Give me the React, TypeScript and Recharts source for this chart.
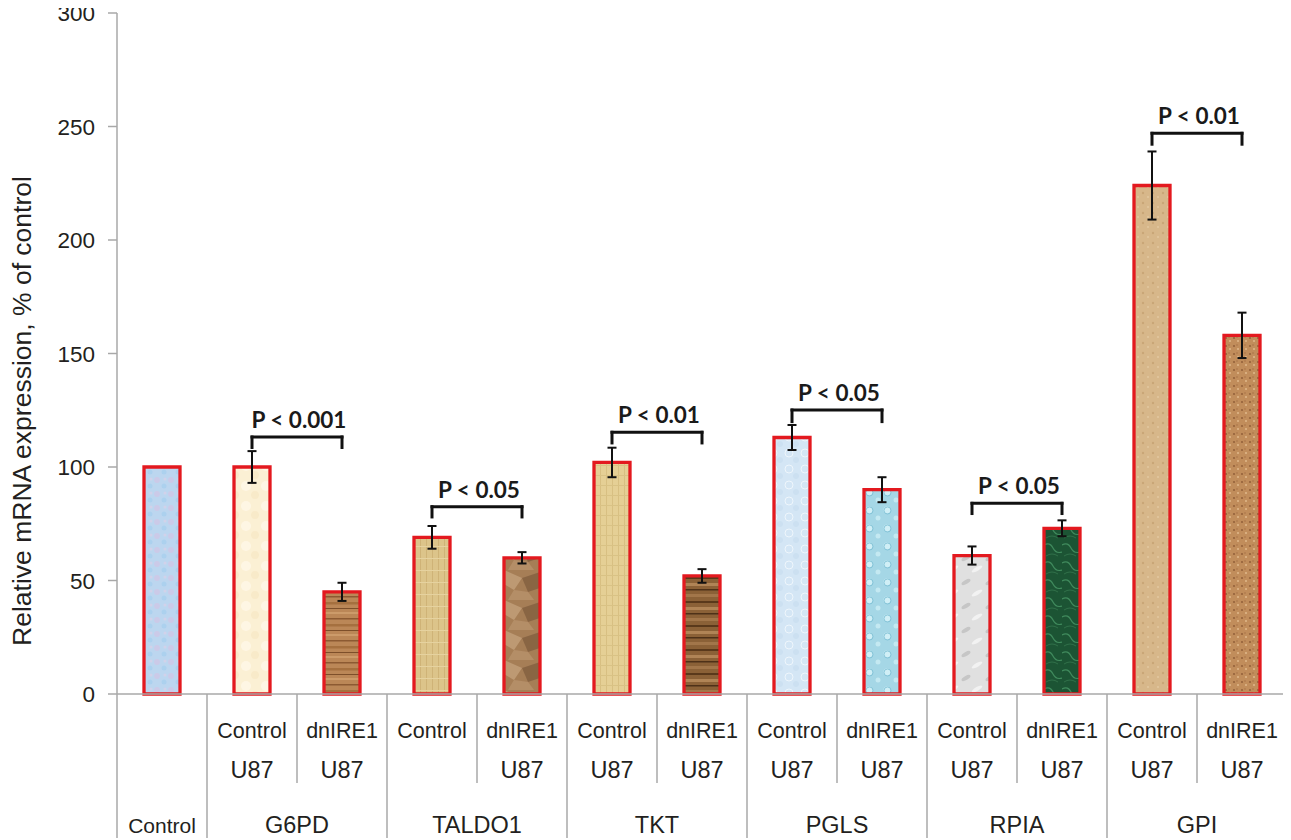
import React from 'react';
import { BarChart, Bar, XAxis, YAxis, ErrorBar, Cell, ReferenceLine } from 'recharts';

// ---------- data ----------
const categories = [
  'Control',
  'G6PD Control U87', 'G6PD dnIRE1 U87',
  'TALDO1 Control', 'TALDO1 dnIRE1 U87',
  'TKT Control U87', 'TKT dnIRE1 U87',
  'PGLS Control U87', 'PGLS dnIRE1 U87',
  'RPIA Control U87', 'RPIA dnIRE1 U87',
  'GPI Control U87', 'GPI dnIRE1 U87',
];
const expression = [100, 100, 45, 69, 60, 102, 52, 113, 90, 61, 73, 224, 158];
const errors: (number | null)[] = [null, 7, 4, 5, 2.5, 6.5, 3, 5.5, 5.5, 4, 3.5, 15, 10];
const rowOneLabels = ['', 'Control', 'dnIRE1', 'Control', 'dnIRE1', 'Control', 'dnIRE1', 'Control', 'dnIRE1', 'Control', 'dnIRE1', 'Control', 'dnIRE1'];
const rowTwoLabels = ['', 'U87', 'U87', '', 'U87', 'U87', 'U87', 'U87', 'U87', 'U87', 'U87', 'U87', 'U87'];
const groupLabels = ['Control', 'G6PD', 'TALDO1', 'TKT', 'PGLS', 'RPIA', 'GPI'];
const yTicks = [0, 50, 100, 150, 200, 250, 300];

const bracketFrom = ['G6PD Control U87', 'TALDO1 Control', 'TKT Control U87', 'PGLS Control U87', 'RPIA Control U87', 'GPI Control U87'];
const bracketTo = ['G6PD dnIRE1 U87', 'TALDO1 dnIRE1 U87', 'TKT dnIRE1 U87', 'PGLS dnIRE1 U87', 'RPIA dnIRE1 U87', 'GPI dnIRE1 U87'];
const bracketLevel = [113.2, 82.5, 115.3, 125.1, 84, 247];
const bracketLegEnd = [108.6, 78, 110.6, 120, 79.5, 242.2];
const bracketText = ['P < 0.001', 'P < 0.05', 'P < 0.01', 'P < 0.05', 'P < 0.05', 'P < 0.01'];

const data = categories.map((c, i) => ({ category: c, value: expression[i], err: errors[i] }));

// ---------- layout ----------
const CHART_W = 1291;
const CHART_H = 840;
const MARGIN = { top: 13, right: 4, bottom: 0, left: 0 };
const Y_AXIS_W = 117;
const X_AXIS_H = 146;
const PLOT_W = CHART_W - MARGIN.left - MARGIN.right - Y_AXIS_W;
const BAND = PLOT_W / categories.length;

const TEXT = '#231f20';
const GRID = '#a8a8a8';
const SANS = '"Liberation Sans", Arial, sans-serif';
const BOLD = 'Lato, "Open Sans", sans-serif';

function CategoryTick(props: any) {
  const { x, y, index } = props;
  const left = x - BAND / 2;
  const isGroupStart = index === 0 || index % 2 === 1;
  const out: React.ReactNode[] = [];
  out.push(
    <line key="l" x1={left} x2={left} y1={y} y2={y + (isGroupStart ? 144 : 89)} stroke={GRID} strokeWidth={1.5} />
  );
  if (rowOneLabels[index]) {
    out.push(
      <text key="r1" x={x} y={y + 44} textAnchor="middle" fontSize={21.5} fontFamily={SANS} fill={TEXT}>
        {rowOneLabels[index]}
      </text>
    );
  }
  if (rowTwoLabels[index]) {
    out.push(
      <text key="r2" x={x} y={y + 84} textAnchor="middle" fontSize={23.5} fontFamily={SANS} fill={TEXT}>
        {rowTwoLabels[index]}
      </text>
    );
  }
  if (index === 0) {
    out.push(
      <text key="g" x={x} y={y + 139} textAnchor="middle" fontSize={21} fontFamily={SANS} fill={TEXT}>
        {groupLabels[0]}
      </text>
    );
  } else if (index % 2 === 1) {
    out.push(
      <text key="g" x={x + BAND / 2} y={y + 139} textAnchor="middle" fontSize={23.5} fontFamily={SANS} fill={TEXT}>
        {groupLabels[(index + 1) / 2]}
      </text>
    );
  }
  return <g>{out}</g>;
}

function ValueTick(props: any) {
  const { x, y, payload } = props;
  return (
    <text x={x} y={y + 8} textAnchor="end" fontSize={22.5} fontFamily={SANS} fill={TEXT}>
      {payload.value}
    </text>
  );
}

function YTitle() {
  return (
    <text
      transform="translate(31, 411) rotate(-90)"
      textAnchor="middle"
      fontSize={26.5}
      fontFamily={SANS}
      fill={TEXT}
    >
      Relative mRNA expression, % of control
    </text>
  );
}

function bracketLabel(text: string) {
  return (props: any) => {
    const vb = props.viewBox || {};
    const cx = (vb.x || 0) + (vb.width || 0) / 2;
    return (
      <text x={cx + 2} y={(vb.y || 0) - 9} textAnchor="middle" fontSize={22.5} fontWeight={700} fontFamily={BOLD} fill="#1a1a1a">
        {text}
      </text>
    );
  };
}

function Textures() {
  return (
    <defs>
      <pattern id="tx0" width="14" height="14" patternUnits="userSpaceOnUse">
        <rect width="14" height="14" fill="#bcd6ef" />
        <circle cx="3" cy="4" r="3" fill="#d2c5e6" opacity="0.7" />
        <circle cx="10" cy="10" r="2.5" fill="#a8cfee" opacity="0.8" />
        <circle cx="11" cy="3" r="1.5" fill="#e0cfe6" opacity="0.6" />
      </pattern>
      <pattern id="tx1" width="20" height="20" patternUnits="userSpaceOnUse">
        <rect width="20" height="20" fill="#fbf0d4" />
        <circle cx="6" cy="6" r="5" fill="#fff8e8" opacity="0.8" />
        <circle cx="15" cy="15" r="4" fill="#f6e6c2" opacity="0.6" />
      </pattern>
      <pattern id="tx2" width="36" height="22" patternUnits="userSpaceOnUse">
        <rect width="36" height="22" fill="#bb8757" />
        <rect y="2" width="36" height="1.5" fill="#8c5a32" />
        <rect y="8" width="36" height="2.5" fill="#a5703f" />
        <rect y="14" width="36" height="1" fill="#7d4f2a" />
        <rect y="18" width="36" height="2" fill="#cc9b6a" />
      </pattern>
      <pattern id="tx3" width="6" height="12" patternUnits="userSpaceOnUse">
        <rect width="6" height="12" fill="#dcc48a" />
        <rect x="0" width="1" height="12" fill="#cfb377" />
        <rect y="6" width="6" height="1" fill="#e6d29f" />
      </pattern>
      <pattern id="tx4" width="36" height="30" patternUnits="userSpaceOnUse">
        <rect width="36" height="30" fill="#a67e56" />
        <polygon points="0,0 18,8 10,20 0,14" fill="#c3a07a" opacity="0.8" />
        <polygon points="18,8 36,2 36,18 24,22" fill="#7e5a3a" opacity="0.7" />
        <polygon points="10,20 24,22 30,30 4,30" fill="#b8926b" opacity="0.8" />
      </pattern>
      <pattern id="tx5" width="6" height="10" patternUnits="userSpaceOnUse">
        <rect width="6" height="10" fill="#e5cf95" />
        <rect x="0" width="1" height="10" fill="#d8bf82" />
        <rect y="5" width="6" height="1" fill="#d9c285" />
      </pattern>
      <pattern id="tx6" width="36" height="24" patternUnits="userSpaceOnUse">
        <rect width="36" height="24" fill="#8b6137" />
        <rect y="1" width="36" height="2" fill="#5a391b" />
        <rect y="7" width="36" height="3" fill="#b08456" />
        <rect y="13" width="36" height="1.5" fill="#4e3118" />
        <rect y="18" width="36" height="3" fill="#a2764a" />
      </pattern>
      <pattern id="tx7" width="16" height="16" patternUnits="userSpaceOnUse">
        <rect width="16" height="16" fill="#d4e6f5" />
        <circle cx="5" cy="5" r="4" fill="none" stroke="#eef6fc" strokeWidth="1" />
        <circle cx="12" cy="12" r="3" fill="#c6dcef" opacity="0.6" />
      </pattern>
      <pattern id="tx8" width="18" height="18" patternUnits="userSpaceOnUse">
        <rect width="18" height="18" fill="#a5d7e6" />
        <circle cx="5" cy="6" r="3.5" fill="#d0eff6" />
        <circle cx="5.5" cy="6.5" r="3.5" fill="none" stroke="#79bdd2" strokeWidth="0.8" />
        <circle cx="14" cy="14" r="2.5" fill="#c4e9f2" />
      </pattern>
      <pattern id="tx9" width="24" height="24" patternUnits="userSpaceOnUse">
        <rect width="24" height="24" fill="#e0e0e0" />
        <ellipse cx="6" cy="6" rx="5" ry="2" fill="#c6c6c6" transform="rotate(-30 6 6)" />
        <ellipse cx="17" cy="17" rx="6" ry="2" fill="#f2f2f2" transform="rotate(-30 17 17)" />
      </pattern>
      <pattern id="tx10" width="18" height="18" patternUnits="userSpaceOnUse">
        <rect width="18" height="18" fill="#1c5434" />
        <path d="M0,5 Q6,2 9,8 T18,12" fill="none" stroke="#3f8a5c" strokeWidth="1.2" />
        <path d="M2,16 Q8,12 14,16" fill="none" stroke="#2f6f48" strokeWidth="1" />
      </pattern>
      <pattern id="tx11" width="10" height="10" patternUnits="userSpaceOnUse">
        <rect width="10" height="10" fill="#d7b78a" />
        <circle cx="3" cy="3" r="1.2" fill="#c9a677" />
        <circle cx="8" cy="7" r="1" fill="#e2c79f" />
      </pattern>
      <pattern id="tx12" width="8" height="8" patternUnits="userSpaceOnUse">
        <rect width="8" height="8" fill="#c18d5b" />
        <circle cx="2" cy="2" r="1.1" fill="#95623a" />
        <circle cx="6" cy="5" r="1" fill="#e0b88a" />
        <circle cx="5" cy="1" r="0.8" fill="#a87246" />
      </pattern>
    </defs>
  );
}

export default function App() {
  return (
    <div style={{ width: CHART_W, height: CHART_H, margin: '-8px 0 0 -8px' }}>
      <BarChart width={CHART_W} height={CHART_H} data={data} margin={MARGIN} barCategoryGap={0}>
        <Textures />
        <XAxis
          dataKey="category"
          interval={0}
          tick={<CategoryTick />}
          tickLine={false}
          tickSize={0}
          tickMargin={0}
          height={X_AXIS_H}
          axisLine={{ stroke: GRID, strokeWidth: 1.5 }}
        />
        <YAxis
          domain={[0, 300]}
          ticks={yTicks}
          width={Y_AXIS_W}
          tickSize={9}
          tickMargin={13}
          axisLine={{ stroke: GRID, strokeWidth: 1.5 }}
          tickLine={{ stroke: GRID, strokeWidth: 1.5 }}
          tick={<ValueTick />}
          label={<YTitle />}
          interval={0}
        />
        <Bar dataKey="value" barSize={36} stroke="#e3191f" strokeWidth={3.3} isAnimationActive={false}>
          {data.map((_, i) => (
            <Cell key={i} fill={`url(#tx${i})`} />
          ))}
          <ErrorBar dataKey="err" width={4.5} stroke="#111" strokeWidth={2} direction="y" />
        </Bar>
        {bracketFrom.map((from, i) => (
          <ReferenceLine
            key={`h${i}`}
            segment={[{ x: from, y: bracketLevel[i] }, { x: bracketTo[i], y: bracketLevel[i] }]}
            stroke="#111"
            strokeWidth={3}
            strokeLinecap="square"
            label={bracketLabel(bracketText[i])}
          />
        ))}
        {bracketFrom.map((from, i) => (
          <ReferenceLine
            key={`a${i}`}
            segment={[{ x: from, y: bracketLevel[i] }, { x: from, y: bracketLegEnd[i] }]}
            stroke="#111"
            strokeWidth={3}
            strokeLinecap="square"
          />
        ))}
        {bracketTo.map((to, i) => (
          <ReferenceLine
            key={`b${i}`}
            segment={[{ x: to, y: bracketLevel[i] }, { x: to, y: bracketLegEnd[i] }]}
            stroke="#111"
            strokeWidth={3}
            strokeLinecap="square"
          />
        ))}
      </BarChart>
    </div>
  );
}
